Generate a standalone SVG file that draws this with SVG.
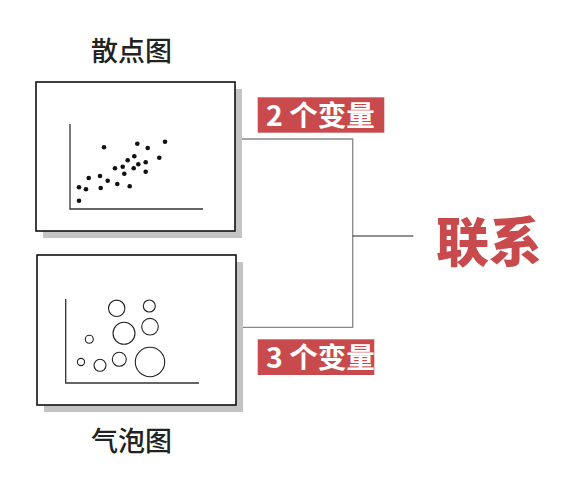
<svg xmlns="http://www.w3.org/2000/svg" width="585" height="481" viewBox="0 0 585 481">
<style>
.shadow{fill:#c4c4c4}
.frame{fill:#fff;stroke:#111;stroke-width:1.6}
.axis{stroke:#333;stroke-width:1.3;fill:none}
.dot{fill:#111}
.bub{fill:none;stroke:#222;stroke-width:1.1}
.title{font-family:"Noto Sans CJK SC","Noto Sans",sans-serif;font-size:27px;font-weight:500;fill:#222}
.tag{fill:#c94a4c}
.tagt{font-family:"Noto Sans CJK SC","Noto Sans",sans-serif;font-size:28.5px;font-weight:bold;fill:#fff}
.big{font-family:"Noto Sans CJK SC","Noto Sans",sans-serif;font-size:53px;font-weight:900;fill:#c94a4c}
.brk{stroke:#888;stroke-width:1.3;fill:none}
.mid{stroke:#222;stroke-width:1.2;fill:none}
</style>
<rect width="585" height="481" fill="#fff"/>
<g id="connectors">
<polyline class="brk" points="236,139 352.7,139 352.7,327.3 236,327.3"/>
<line class="mid" x1="352.7" y1="236" x2="413.3" y2="236"/>
</g>
<g id="scatter">
<rect class="shadow" x="43" y="89" width="199" height="149"/>
<rect class="frame" x="36" y="82" width="199" height="149"/>
<polyline class="axis" points="70,124 70,209 203,209"/>
<g class="dot">
<circle cx="104" cy="147.3" r="2.3"/><circle cx="137.3" cy="143.7" r="2.3"/><circle cx="147.7" cy="148" r="2.3"/>
<circle cx="165" cy="141.7" r="2.3"/><circle cx="134.3" cy="156.3" r="2.3"/><circle cx="127.7" cy="160.3" r="2.3"/>
<circle cx="159.3" cy="157.7" r="2.3"/><circle cx="145.7" cy="162.3" r="2.3"/><circle cx="138.3" cy="164.3" r="2.3"/>
<circle cx="122.7" cy="166.7" r="2.3"/><circle cx="115" cy="168.3" r="2.3"/><circle cx="133.7" cy="168.3" r="2.3"/>
<circle cx="124.3" cy="173.7" r="2.3"/><circle cx="145.7" cy="171.7" r="2.3"/><circle cx="88.7" cy="178" r="2.3"/>
<circle cx="100" cy="176" r="2.3"/><circle cx="107.7" cy="180.7" r="2.3"/><circle cx="117.3" cy="184" r="2.3"/>
<circle cx="129.7" cy="186.3" r="2.3"/><circle cx="79" cy="187.3" r="2.3"/><circle cx="86" cy="189.3" r="2.3"/>
<circle cx="100.7" cy="188" r="2.3"/><circle cx="79" cy="200.7" r="2.3"/>
</g>
</g>
<g id="bubble">
<rect class="shadow" x="44" y="262" width="199" height="150"/>
<rect class="frame" x="37" y="255" width="199" height="150"/>
<polyline class="axis" points="65.7,299 65.7,383 199,383"/>
<circle class="bub" cx="116.7" cy="308.3" r="8.2"/>
<circle class="bub" cx="149.3" cy="306" r="6"/>
<circle class="bub" cx="124" cy="333.3" r="11"/>
<circle class="bub" cx="150" cy="326.7" r="8.3"/>
<circle class="bub" cx="89.3" cy="339.3" r="4"/>
<circle class="bub" cx="81" cy="362" r="3.6" stroke="#888"/>
<circle class="bub" cx="100" cy="365.3" r="6"/>
<circle class="bub" cx="119.3" cy="359.3" r="7"/>
<circle class="bub" cx="150" cy="362" r="14.7"/>
</g>
<g id="title-scatter"><text class="title" x="91" y="61">散点图</text></g>
<g id="title-bubble"><text class="title" x="91" y="451">气泡图</text></g>
<g id="tag2">
<rect class="tag" x="257.7" y="97.3" width="126.6" height="35.4"/>
<text class="tagt" x="266" y="125.5">2 个变量</text>
</g>
<g id="tag3">
<rect class="tag" x="257.7" y="339.3" width="116.6" height="35.7"/>
<text class="tagt" x="266" y="367.5">3 个变量</text>
</g>
<g id="result"><text class="big" x="436" y="262">联系</text></g>
</svg>
